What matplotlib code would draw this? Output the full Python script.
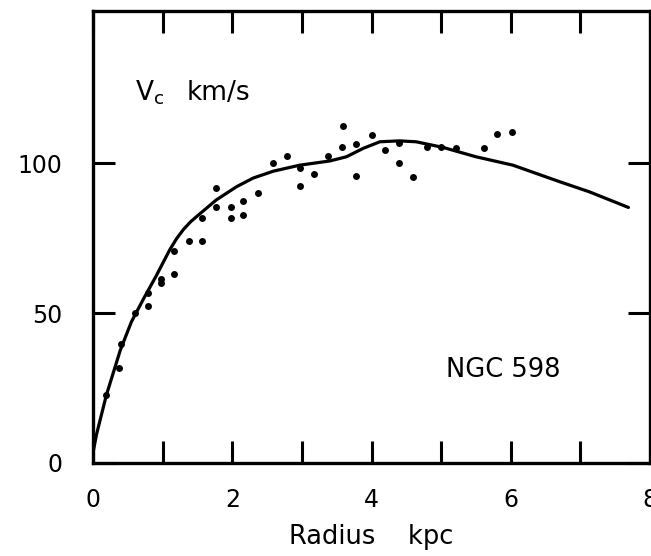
import matplotlib
matplotlib.use("Agg")
import matplotlib.pyplot as plt

obs_r = [0.19, 0.38, 0.40, 0.60, 0.79, 0.79, 0.98, 0.98, 1.17, 1.17, 1.38, 1.57,
         1.57, 1.76, 1.76, 1.98, 1.98, 2.16, 2.16, 2.37, 2.58, 2.78, 2.97, 2.97,
         3.18, 3.38, 3.58, 3.59, 3.77, 3.77, 4.0, 4.2, 4.39, 4.40, 4.60, 4.80,
         5.0, 5.21, 5.61, 5.80, 6.02]
obs_v = [22.7, 31.6, 39.7, 49.9, 52.3, 56.6, 59.9, 61.2, 70.8, 63.0, 73.9, 73.9,
         81.6, 85.2, 91.6, 81.6, 85.2, 82.7, 87.3, 89.9, 99.9, 102.4, 92.3, 98.2,
         96.4, 102.4, 105.4, 112.3, 95.7, 106.2, 109.3, 104.3, 99.9, 106.6, 95.4, 105.4,
         105.4, 104.9, 104.9, 109.6, 110.4]

# model curve
curve_r = [0.0, 0.05, 0.19, 0.39, 0.55, 0.72, 0.91, 1.10, 1.20, 1.30, 1.40, 1.52,
           1.77, 2.06, 2.30, 2.59, 2.97, 3.40, 3.64, 3.88, 4.12, 4.40, 4.64, 5.03,
           5.50, 6.03, 6.70, 7.13, 7.69]
curve_v = [3.5, 9.5, 22.5, 37.5, 47.0, 54.5, 62.5, 71.0, 74.8, 77.9, 80.4, 82.8,
           87.7, 92.1, 95.0, 97.3, 99.3, 100.7, 102.1, 104.9, 107.1, 107.4, 107.1,
           105.2, 102.1, 99.3, 93.8, 90.4, 85.2]

xticks = [0, 1, 2, 3, 4, 5, 6, 7, 8]
xlabels = ["0", "", "2", "", "4", "", "6", "", "8"]
yticks = [0, 50, 100]

plt.rcParams['font.family'] = ['DejaVu Sans']
plt.rcParams['mathtext.fontset'] = 'dejavusans'

fig = plt.figure(figsize=(6.51, 5.56), dpi=100)
ax = fig.add_axes([0.1429, 0.1673, 0.8556, 0.8129])

ax.plot(curve_r, curve_v, color='black', lw=2.3, solid_capstyle='round',
        solid_joinstyle='round')
ax.plot(obs_r, obs_v, 'o', color='black', ms=5, mew=0)

ax.set_xlim(0, 8)
ax.set_ylim(0, 150.7)

ax.set_xticks(xticks)
ax.set_xticklabels(xlabels)
ax.set_yticks(yticks)
ax.set_yticklabels([str(v) for v in yticks])

ax.tick_params(direction='in', length=16, width=2.2, top=True, right=True,
               labelsize=17)
ax.tick_params(axis='y', pad=22)
ax.tick_params(axis='x', pad=18)
for s in ax.spines.values():
    s.set_linewidth(2.4)

ax.set_xlabel("Radius    kpc", fontsize=18.5, labelpad=9)
ax.text(0.60, 123.5, r"V$_{\rm c}$", fontsize=19, va='center')
ax.text(1.35, 123.5, "km/s", fontsize=19, va='center')
ax.text(5.89, 31, "NGC 598", fontsize=18.5, va='center', ha='center')

fig.savefig("out.png", dpi=100)
